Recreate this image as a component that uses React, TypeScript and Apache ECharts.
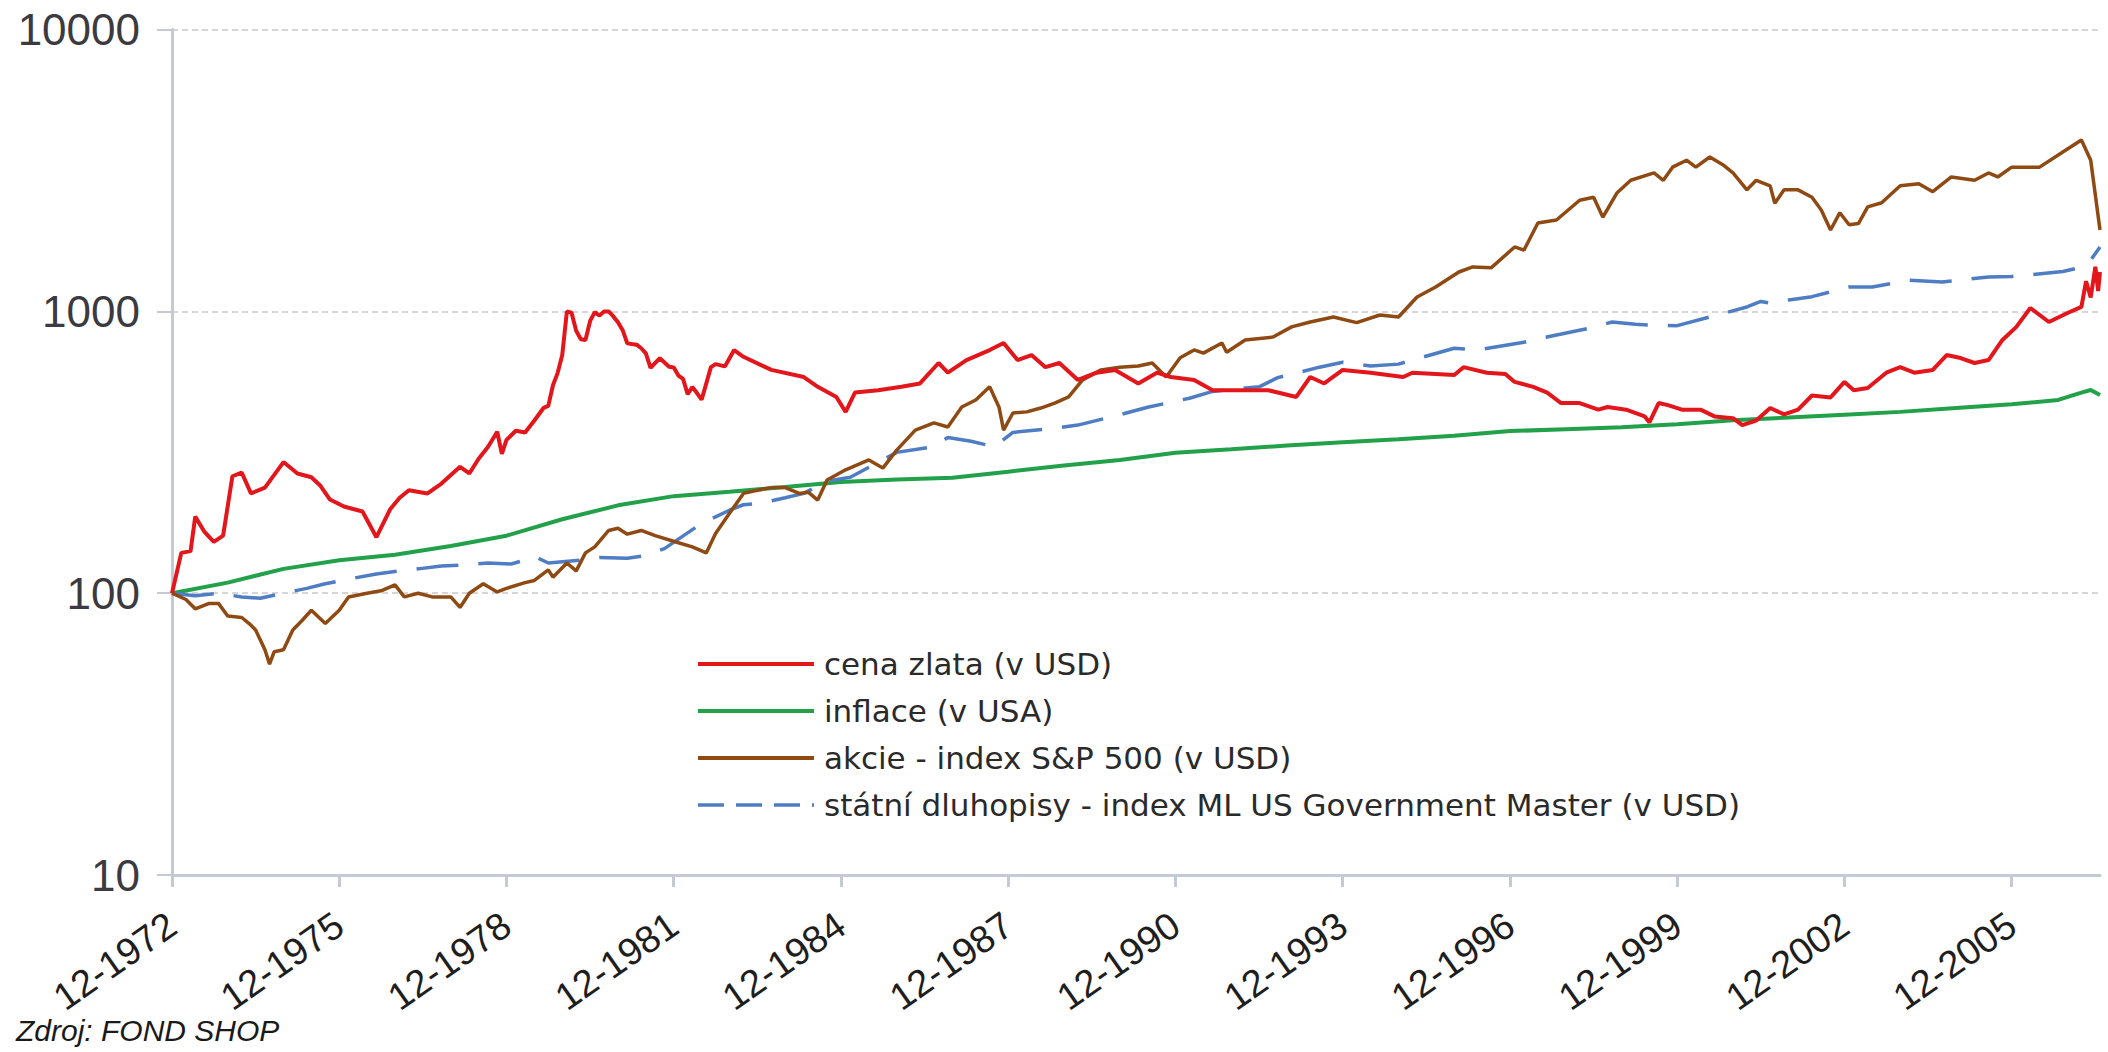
import React, { useEffect, useRef } from "react";
import * as echarts from "echarts";

// x positions are months counted from 12-1972 (month 0)
const xTickMonths = [0, 36, 72, 108, 144, 180, 216, 252, 288, 324, 360, 396];
const xTickLabels = [
  "12-1972", "12-1975", "12-1978", "12-1981", "12-1984", "12-1987",
  "12-1990", "12-1993", "12-1996", "12-1999", "12-2002", "12-2005",
];
const lastMonth = 415;
const yMin = 10;
const yMax = 10000;

const seriesNames = [
  "cena zlata (v USD)",
  "inflace (v USA)",
  "akcie - index S&P 500 (v USD)",
  "státní dluhopisy - index ML US Government Master (v USD)",
];

const goldData: [number, number][] = [
  [0, 100], [2, 139], [4, 141], [5, 187], [7, 165], [9, 152], [11, 160], [13, 260], [15, 268],
  [17, 226], [20, 237], [24, 292], [27, 266], [30, 258], [32, 240], [34, 215], [37, 203],
  [41, 195], [44, 158], [47, 199], [49, 218], [51, 232], [55, 226], [58, 245], [62, 281],
  [64, 266], [66, 300], [68, 330], [70, 374], [71, 312], [72, 350], [74, 377], [76, 372],
  [78, 410], [80, 455], [81, 462], [82, 547], [83, 604], [84, 700], [85, 1000], [86, 990],
  [87, 854], [88, 797], [89, 792], [90, 925], [91, 994], [92, 966], [93, 1000], [94, 1000],
  [95, 960], [96, 915], [97, 858], [98, 770], [100, 762], [101, 740], [102, 710], [103, 630],
  [105, 682], [107, 636], [108, 632], [109, 592], [110, 576], [111, 508], [112, 539],
  [113, 513], [114, 486], [116, 634], [117, 650], [119, 638], [121, 729], [123, 690],
  [129, 620], [136, 585], [139, 540], [143, 497], [145, 440], [147, 515], [152, 525],
  [157, 540], [161, 555], [165, 656], [167, 606], [171, 672], [176, 729], [179, 773],
  [182, 672], [185, 700], [188, 634], [191, 656], [195, 571], [199, 606], [203, 620],
  [208, 555], [212, 606], [215, 585], [220, 571], [224, 525], [230, 525], [236, 525],
  [242, 497], [245, 585], [248, 555], [252, 620], [258, 606], [265, 585], [267, 606],
  [276, 595], [278, 634], [283, 606], [287, 600], [289, 562], [293, 540], [296, 515],
  [299, 473], [303, 473], [307, 448], [309, 458], [313, 448], [317, 424], [318, 404],
  [320, 473], [322, 465], [325, 448], [329, 448], [332, 424], [336, 418], [338, 395],
  [341, 410], [344, 454], [347, 431], [350, 448], [353, 503], [357, 495], [360, 562],
  [362, 525], [365, 535], [369, 606], [372, 634], [375, 606], [379, 620], [382, 700],
  [385, 683], [388, 656], [391, 672], [394, 792], [397, 881], [400, 1028], [404, 917],
  [408, 987], [411, 1037], [412, 1280], [413, 1120], [414, 1440], [414.6, 1180], [415, 1380],
];

const inflationData: [number, number][] = [
  [0, 100], [12, 109], [24, 122], [36, 131], [48, 137], [60, 147], [72, 160], [84, 183],
  [96, 205], [108, 221], [120, 229], [132, 238], [144, 248], [156, 253], [168, 257],
  [180, 270], [192, 284], [204, 297], [216, 315], [228, 324], [240, 334], [252, 343],
  [264, 352], [276, 362], [288, 376], [300, 382], [312, 388], [324, 398], [336, 411],
  [348, 420], [360, 430], [372, 440], [384, 454], [396, 468], [406, 485], [411, 515],
  [413, 526], [415, 505],
];

const stocksData: [number, number][] = [
  [0, 100], [3, 95], [5, 88], [8, 92], [10, 92], [12, 83], [15, 82], [17, 77], [18, 74],
  [20, 63], [21, 56], [22, 62], [24, 63], [26, 74], [28, 80], [30, 87], [33, 78], [36, 87],
  [38, 97], [42, 100], [45, 102], [48, 107], [50, 97], [53, 100], [56, 97], [60, 97],
  [62, 89], [64, 100], [67, 108], [70, 101], [72, 104], [76, 109], [78, 111], [81, 121],
  [82, 114], [85, 128], [87, 120], [89, 139], [91, 146], [94, 167], [96, 170], [98, 162],
  [101, 167], [104, 160], [109, 151], [112, 146], [115, 139], [117, 163], [120, 192],
  [123, 226], [126, 232], [129, 237], [132, 237], [135, 226], [137, 228], [139, 214],
  [141, 252], [145, 274], [150, 297], [153, 278], [156, 322], [160, 379], [164, 402],
  [167, 389], [170, 458], [173, 485], [176, 540], [178, 458], [179, 379], [181, 436],
  [184, 440], [187, 454], [190, 473], [193, 497], [196, 571], [200, 620], [204, 634],
  [208, 640], [211, 656], [214, 585], [217, 685], [220, 730], [222, 711], [226, 773],
  [227, 716], [231, 792], [237, 811], [241, 881], [245, 917], [250, 955], [255, 912],
  [260, 971], [264, 955], [268, 1125], [272, 1220], [277, 1380], [280, 1438], [284, 1430],
  [289, 1693], [291, 1650], [294, 2060], [298, 2110], [303, 2480], [306, 2540], [308, 2160],
  [311, 2630], [314, 2920], [319, 3100], [321, 2920], [323, 3250], [326, 3440], [328, 3250],
  [331, 3530], [334, 3300], [336, 3100], [339, 2700], [341, 2920], [344, 2790], [345, 2420],
  [347, 2700], [350, 2700], [353, 2540], [355, 2290], [357, 1945], [359, 2240], [361, 2030],
  [363, 2050], [365, 2350], [368, 2430], [372, 2790], [376, 2840], [379, 2660], [383, 3000],
  [388, 2920], [391, 3100], [393, 3000], [396, 3250], [402, 3250], [407, 3680], [411, 4060],
  [413, 3440], [415, 1945],
];

const bondsData: [number, number][] = [
  [0, 100], [5, 98], [10, 100], [15, 97], [19, 96], [24, 100], [29, 104], [33, 108],
  [39, 113], [44, 117], [49, 120], [53, 122], [58, 125], [63, 126], [68, 128], [73, 127],
  [76, 131], [78, 135], [81, 128], [88, 131], [92, 134], [98, 133], [102, 136], [106, 144],
  [114, 177], [120, 197], [123, 206], [127, 209], [132, 218], [136, 226], [141, 250],
  [146, 258], [156, 316], [164, 331], [167, 357], [172, 346], [177, 331], [181, 372],
  [190, 385], [195, 395], [205, 434], [210, 457], [219, 492], [224, 520], [234, 540],
  [238, 582], [247, 634], [252, 660], [258, 640], [264, 650], [267, 672], [276, 740],
  [281, 730], [291, 777], [295, 805], [305, 871], [310, 917], [315, 900], [320, 892],
  [324, 890], [334, 985], [339, 1037], [342, 1085], [344, 1070], [348, 1098], [353, 1128],
  [361, 1220], [366, 1220], [374, 1290], [381, 1271], [391, 1325], [396, 1330], [407, 1385],
  [411, 1435], [413, 1520], [415, 1693],
];

const colors = ["#e3161c", "#22a04a", "#8f4a13", "#4e7dc4"];
const axisColor = "#c3cad3";

export default function App() {
  const ref = useRef<HTMLDivElement>(null);
  useEffect(() => {
    if (!ref.current) return;
    const chart = echarts.init(ref.current, undefined, { renderer: "svg" });
    const option: any = {
      animation: false,
      backgroundColor: "#ffffff",
      grid: { left: 172, right: 8, top: 29.6, bottom: 177, containLabel: false },
      xAxis: {
        type: "value",
        min: 0,
        max: lastMonth,
        interval: 36,
        axisLine: { show: true, onZero: false, lineStyle: { color: axisColor, width: 3 } },
        axisTick: {
          show: true,
          length: 12,
          customValues: xTickMonths,
          lineStyle: { color: axisColor, width: 3 },
        },
        axisLabel: {
          customValues: xTickMonths,
          formatter: (v: number) => {
            const i = xTickMonths.indexOf(Math.round(v));
            return i >= 0 ? xTickLabels[i] : "";
          },
          rotate: 35,
          margin: 46,
          fontSize: 38,
          fontFamily: "Liberation Sans",
          color: "#1e1e1e",
        },
        splitLine: { show: false },
      },
      yAxis: {
        type: "log",
        logBase: 10,
        min: yMin,
        max: yMax,
        axisLine: { show: true, lineStyle: { color: axisColor, width: 3 } },
        axisTick: { show: true, length: 15, lineStyle: { color: axisColor, width: 2 } },
        axisLabel: {
          formatter: (v: number) => String(Math.round(v)),
          fontSize: 44,
          fontFamily: "Liberation Sans",
          color: "#3a3a40",
          margin: 32,
        },
        splitLine: { show: true, lineStyle: { color: "#d6d6d6", width: 2, type: [6, 4] } },
      },
      legend: {
        orient: "vertical",
        left: 691,
        top: 642,
        itemWidth: 116,
        itemHeight: 14,
        itemGap: 13,
        selectedMode: false,
        itemStyle: { opacity: 0 },
        lineStyle: { width: 4 },
        data: [
          { name: seriesNames[0] },
          { name: seriesNames[1] },
          { name: seriesNames[2] },
          { name: seriesNames[3], lineStyle: { type: [26, 12], width: 3.5 } },
        ],
        textStyle: {
          fontSize: 31,
          fontFamily: "DejaVu Sans",
          color: "#2a2a2a",
          lineHeight: 34,
          padding: [0, 0, 0, 5],
        },
      },
      series: [
        {
          name: seriesNames[1],
          type: "line",
          data: inflationData,
          symbol: "none",
          showSymbol: false,
          lineStyle: { color: colors[1], width: 4 },
          itemStyle: { color: colors[1] },
          z: 2,
        },
        {
          name: seriesNames[3],
          type: "line",
          data: bondsData,
          symbol: "none",
          showSymbol: false,
          lineStyle: { color: colors[3], width: 3.5, type: [42, 20] },
          itemStyle: { color: colors[3] },
          z: 3,
        },
        {
          name: seriesNames[2],
          type: "line",
          data: stocksData,
          symbol: "none",
          showSymbol: false,
          lineStyle: { color: colors[2], width: 3.5 },
          itemStyle: { color: colors[2] },
          z: 4,
        },
        {
          name: seriesNames[0],
          type: "line",
          data: goldData,
          symbol: "none",
          showSymbol: false,
          lineStyle: { color: colors[0], width: 4 },
          itemStyle: { color: colors[0] },
          z: 5,
        },
      ],
      graphic: [
        {
          type: "text",
          left: 16,
          top: 1015,
          style: {
            text: "Zdroj: FOND SHOP",
            font: 'italic 30px "Liberation Sans"',
            fill: "#1a1a1a",
          },
        },
      ],
    };
    chart.setOption(option);
    return () => chart.dispose();
  }, []);
  return (
    <div
      ref={ref}
      style={{ position: "fixed", left: 0, top: 0, width: 2108, height: 1052, background: "#fff" }}
    />
  );
}
